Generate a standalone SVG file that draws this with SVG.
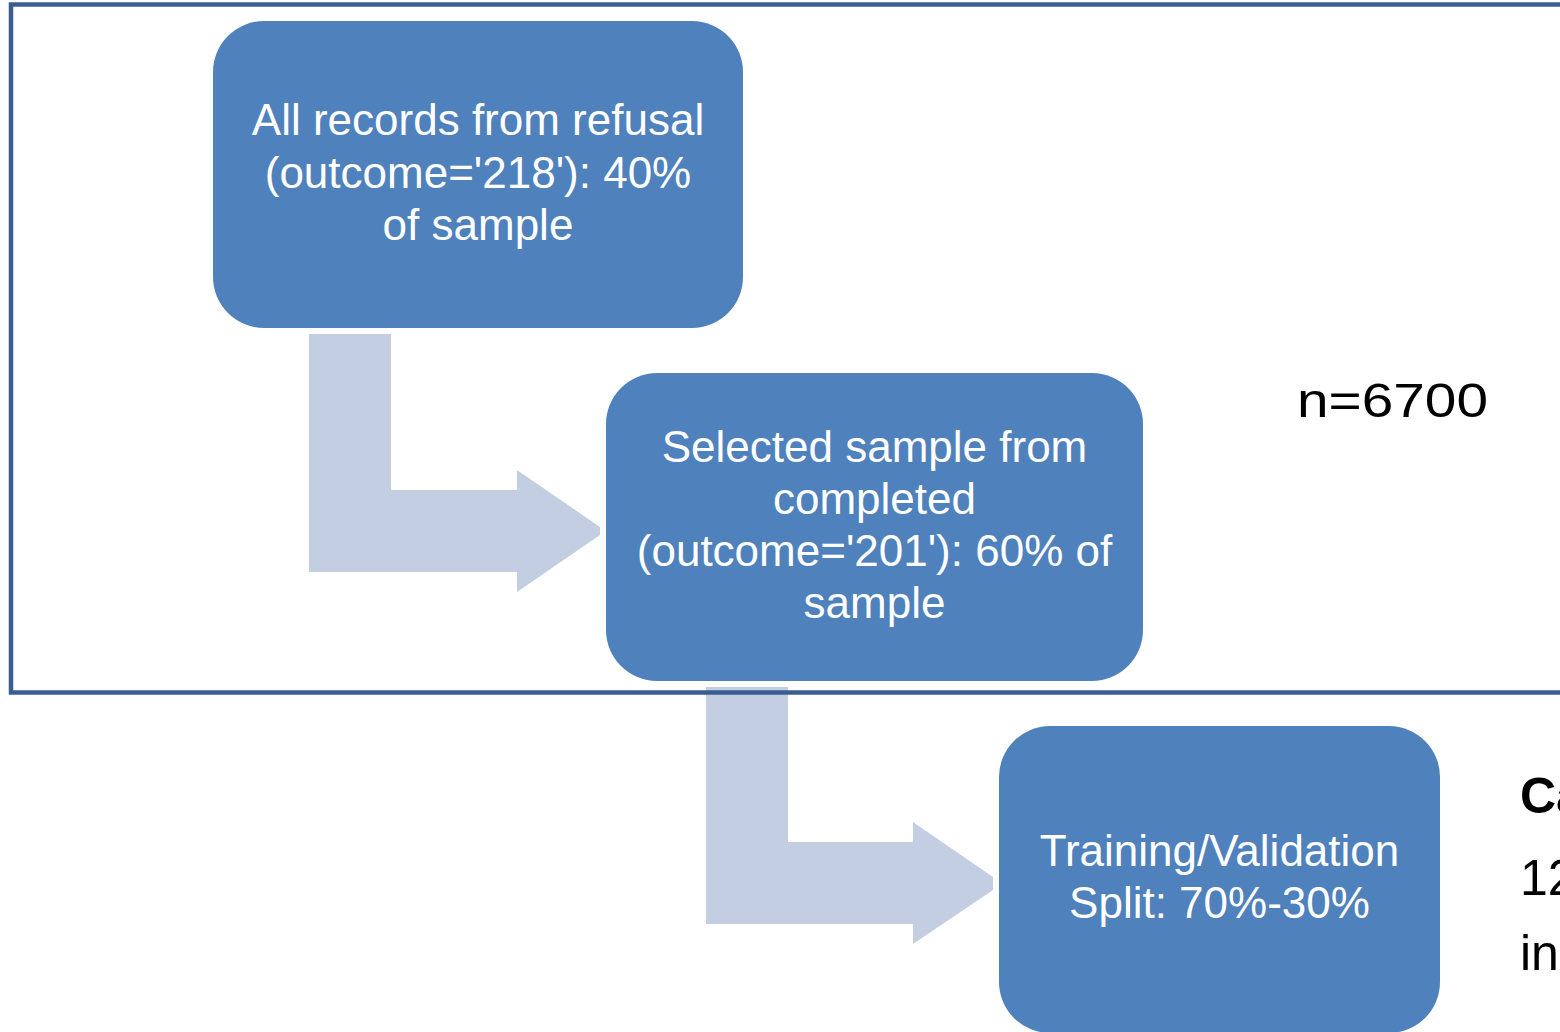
<svg xmlns="http://www.w3.org/2000/svg" width="1560" height="1032" viewBox="0 0 1560 1032">
<style>
.box{fill:#4F81BD;}
.arrow{fill:#C3CEE2;}
.t{font-family:"Liberation Sans",Arial,sans-serif;font-size:44px;fill:#FFFFFF;text-anchor:middle;}
.k{font-family:"Liberation Sans",Arial,sans-serif;fill:#000000;}
</style>
<rect width="1560" height="1032" fill="#FFFFFF"/>
<g id="connectors">
<polygon class="arrow" points="309,334 391,334 391,490 517,490 517,470 600,527 600,535 517,592 517,572 309,572"/>
<polygon class="arrow" points="706,687 788,687 788,842 913,842 913,822 993,877 993,890 913,944 913,924 706,924"/>
</g>
<g id="frame">
<path d="M1565,4.5 H11 V692.5 H1565" fill="none" stroke="#3B5E91" stroke-width="4.5"/>
</g>
<g id="node-refusal">
<rect class="box" x="213" y="21" width="530" height="307" rx="51" ry="51"/>
<text class="t" x="478" y="135">All records from refusal</text>
<text class="t" x="478" y="188">(outcome='218'): 40%</text>
<text class="t" x="478" y="240">of sample</text>
</g>
<g id="node-completed">
<rect class="box" x="606" y="373" width="537" height="308" rx="51" ry="51"/>
<text class="t" x="874.5" y="462">Selected sample from</text>
<text class="t" x="874.5" y="514">completed</text>
<text class="t" x="874.5" y="566">(outcome='201'): 60% of</text>
<text class="t" x="874.5" y="618">sample</text>
</g>
<g id="node-split">
<rect class="box" x="999" y="726" width="441" height="307" rx="51" ry="51"/>
<text class="t" x="1219.5" y="866">Training/Validation</text>
<text class="t" x="1219.5" y="918">Split: 70%-30%</text>
</g>
<g id="label-n">
<text class="k" x="1297" y="417" font-size="49" textLength="191" lengthAdjust="spacingAndGlyphs">n=6700</text>
</g>
<g id="label-cut">
<text class="k" x="1520" y="813" font-size="50" font-weight="bold">Ca</text>
<text class="k" x="1520" y="895" font-size="50">12</text>
<text class="k" x="1520" y="970" font-size="50">in</text>
</g>
</svg>
